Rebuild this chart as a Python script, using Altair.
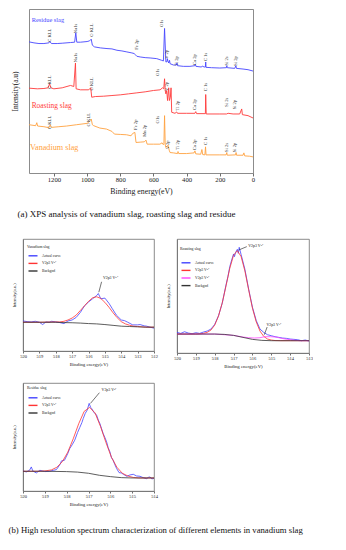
import altair as alt
import pandas as pd

FONT = "Liberation Serif"
FRAME = "#6e6e6e"
INK = "#1a1a1a"

# ---------------- (a) survey spectra (binding energy eV, intensity a.u.) ----------------
residue_pts = [(1350,391),(1320,388),(1290,386),(1260,386),(1230,388),(1224,392),(1215,386),(1180,386),
               (1150,387),(1100,389),(1075,390),(1068,418),(1062,390),(1040,390),(1000,392),(985,394),
               (975,399),(968,381),(955,376),(920,373),(880,371),(850,370),(820,366),(790,364),(760,361),
               (730,358),(715,356),(710,353),(700,348),(680,346),(650,344),(620,343),(580,341),(550,336),
               (540,334),(533,431),(525,331),(518,332),(516,341),(513,334),(508,328),(503,336),(500,326),
               (480,322),(462,322),(458,328),(455,320),(420,318),(380,318),(350,320),(347,324),(344,318),
               (310,316),(305,319),(295,316),(287,316),(285,331),(283,315),(250,314),(200,313),(160,314),
               (158,320),(155,314),(110,312),(103,320),(100,312),(60,310),(30,308),(0,304)]
roasting_pts = [(1350,253),(1300,251),(1260,252),(1235,254),(1226,266),(1218,254),(1200,251),(1150,254),
                (1100,261),(1080,258),(1070,328),(1066,251),(1040,248),(990,248),(978,254),(972,226),
                (950,228),(900,229),(850,231),(800,233),(750,236),(700,239),(650,242),(600,246),(560,248),
                (545,254),(538,251),(533,281),(529,246),(525,236),(520,246),(515,216),(508,254),(504,216),
                (498,226),(494,254),(490,181),(470,178),(460,182),(455,178),(400,178),(350,178),(345,183),
                (340,177),(295,177),(287,177),(285,234),(282,176),(200,176),(160,176),(150,178),(120,176),
                (80,176),(68,191),(64,174),(30,171),(0,164)]
vanadium_pts = [(1350,144),(1310,141),(1303,150),(1298,140),(1260,138),(1230,135),(1222,144),(1215,136),
                (1170,138),(1124,140),(1063,144),(1000,148),(985,154),(975,161),(968,144),(960,141),
                (923,134),(883,131),(850,124),(835,116),(800,115),(762,114),(735,111),(725,118),(712,121),
                (705,91),(680,92),(655,93),(645,98),(638,86),(600,86),(561,86),(548,90),(540,84),(537,86),
                (533,171),(529,84),(525,76),(512,83),(505,68),(500,61),(480,60),(455,58),(452,64),(448,58),
                (400,58),(355,60),(350,66),(345,57),(315,56),(308,70),(303,55),(290,54),(286,78),(283,54),
                (200,54),(162,54),(158,61),(155,53),(105,54),(102,61),(99,53),(60,53),(55,60),(50,51),
                (20,50),(0,48)]
survey_names = ["Residue slag", "Roasting slag", "Vanadium slag"]
survey_colors = ["#4646ff", "#ff3a3a", "#ffa240"]
survey_label_pos = [(1334, 456), (1334, 201), (1344, 76)]
xticks_a = [1200, 1000, 800, 600, 400, 200, 0]
peak_labels_a = [
    (1224,411,"C KLL"),(1068,431,"Na1s"),(973,426,"O KLL"),(702,383,"Fe 2p"),(547,446,"O1s"),
    (520,354,"V 2p"),(461,334,"Ti 2p"),(350,338,"Ca 2p"),(285,346,"C 1s"),(159,334,"Si 2s"),(102,334,"Si 2p"),
    (1224,271,"C KLL"),(1068,344,"Na1s"),(973,266,"O KLL"),(573,300,"O1s"),(520,258,"V 2p"),
    (455,201,"Ti 2p"),(350,204,"Ca 2p"),(283,256,"C 1s"),(159,211,"Si 2s"),(106,204,"Si 2p"),
    (1224,151,"C KLL"),(987,159,"O KLL"),(706,144,"Fe 2p"),(651,126,"Mn 2p"),(571,159,"O1s"),
    (514,84,"V 2p"),(455,84,"Ti 2p"),(350,84,"Ca 2p"),(285,96,"C 1s"),(159,76,"Si 2s"),(106,76,"Si 2p")]

# ---------------- (b) high-resolution V2p3 spectra ----------------
curve_names3 = ["Actual curve", "V2p3 V\u2075\u207a", "Backgnd"]
curve_colors3 = ["#4343ff", "#ff3434", "#333333"]
curve_names4 = ["Actual curve", "V2p3 V\u2075\u207a", "V2p3 V\u2074\u207a", "Backgnd"]
curve_colors4 = ["#4343ff", "#ff3434", "#ff44ff", "#333333"]

van_actual = [(520,92),(519.75,90),(519.5,89),(519.25,91),(519.0,88),(518.8,81),(518.6,89),(518.4,88),
              (518.25,91),(518.0,89),(517.75,87),(517.5,84),(517.25,92),(517.0,95),(516.75,103),(516.5,118),
              (516.25,138),(516.0,150),(515.75,160),(515.5,170),(515.4,176),(515.25,160),(515.0,162),
              (514.75,146),(514.55,130),(514.3,110),(514.0,95),(513.8,93),(513.6,88),(513.3,80),(513.0,80),
              (512.85,81),(512.6,77),(512.45,76),(512.25,73),(512.0,70)]
van_fit = [(520,88),(519,88),(518,89),(517.75,89),(517.5,91),(517.25,95),(517,101),(516.75,110),(516.5,124),
           (516.25,138),(516,152),(515.75,163),(515.5,166),(515.25,161),(515,149),(514.75,134),(514.5,117),
           (514.25,102),(514,90),(513.75,83),(513.5,79),(513.25,76),(513,75),(512.5,73),(512,73)]
van_bg = [(520,88),(519,88),(518,88),(517.5,87),(517,86.5),(516.5,85.5),(516,84),(515.5,83),(515,81),
          (514.5,78.5),(514,76),(513.5,75),(513,74),(512.5,73),(512,73)]
van_notes = [(515.12, 223, "V2p3 V\u2075\u207a")]
van_pointer = [(515.2, 212, 515.37, 180)]

roast_actual = [(520,62),(519.8,59),(519.6,64),(519.4,60),(519.2,58),(519.0,61),(518.8,59),(518.6,63),
                (518.4,66),(518.2,72),(518.0,86),(517.8,112),(517.6,150),(517.4,205),(517.3,230),(517.2,260),
                (517.1,280),(517.0,298),(516.95,290),(516.9,302),(516.8,312),(516.75,300),(516.7,318),
                (516.6,296),(516.4,252),(516.2,192),(516.0,138),(515.8,98),(515.6,72),(515.4,62),(515.2,55),
                (515.0,52),(514.8,49),(514.6,47),(514.4,45),(514.2,44),(514.0,42),(513.8,41),(513.6,40),
                (513.4,37),(513.2,39),(513.0,36)]
roast_fit5 = [(520,57),(519.5,57),(519,57),(518.8,57.5),(518.6,59),(518.4,62),(518.2,69),(518,84),(517.8,111),
              (517.6,151),(517.4,202),(517.2,255),(517,294),(516.8,308),(516.6,290),(516.4,247),(516.2,190),
              (516,135),(515.8,94),(515.6,66),(515.4,50),(515.2,42),(515,39),(514.8,37.5),(514.5,37),
              (514,37),(513,37)]
roast_fit4 = [(520,57),(518,57),(517,53),(516.5,48),(516.2,46),(515.9,45),(515.6,46),(515.35,49),(515.05,49),
              (514.75,48),(514.45,44),(514.15,41),(513.85,39),(513.5,37),(513,37)]
roast_bg = [(520,57),(519,57),(518,57),(517.5,56),(517,53),(516.5,47),(516,41),(515.5,38),(515,37),
            (514,37),(513,37)]
roast_notes = [(516.22, 323, "V2p3 V\u2075\u207a"), (515.26, 85, "V2p3 V\u2074\u207a")]
roast_pointer = [(516.3, 320, 516.72, 310), (515.22, 78, 515.37, 55)]

res_actual = [(520,60),(519.85,57),(519.7,62),(519.62,72),(519.55,60),(519.39,54),(519.23,62),(519.0,58),
              (518.78,59),(518.6,62),(518.47,64),(518.3,80),(518.24,90),(518.1,92),(517.95,112),(517.86,127),
              (517.75,138),(517.63,152),(517.5,175),(517.4,190),(517.3,205),(517.24,217),(517.15,232),
              (517.06,242),(516.97,262),(516.9,250),(516.86,247),(516.75,235),(516.63,227),(516.55,212),
              (516.48,202),(516.4,186),(516.33,172),(516.25,160),(516.17,147),(516.1,130),(516.02,117),
              (515.95,100),(515.87,92),(515.8,80),(515.71,67),(515.6,55),(515.5,54),(515.4,50),(515.25,44),
              (515.1,48),(514.95,50),(514.8,45),(514.64,44),(514.5,40),(514.34,37),(514.25,41),(514.18,42),
              (514.1,36),(514,38)]
res_fit = [(520,59),(519.5,59),(519.2,59),(518.95,60.5),(518.7,63),(518.45,71),(518.2,87.5),(517.95,116),
           (517.7,156),(517.45,201),(517.2,238),(516.95,250),(516.7,233.5),(516.45,193),(516.2,145),
           (515.95,101),(515.7,71),(515.45,53),(515.2,45),(514.95,40.5),(514.7,39),(514.3,39),(514,39)]
res_bg = [(520,59),(519,59),(518,58),(517.5,56.5),(517,53),(516.5,47),(516,43),(515.5,40),(515,39),
          (514.5,39),(514,39)]
res_notes = [(516.4, 302, "V2p3 V\u2075\u207a")]
res_pointer = [(516.5, 294, 516.91, 262)]

caption_a = "(a) XPS analysis of vanadium slag, roasting slag and residue"
caption_b = "(b) High resolution spectrum characterization of different elements in vanadium slag"


def pts_df(pts, name):
    return pd.DataFrame({"E": [p[0] for p in pts], "I": [p[1] for p in pts], "s": name})


# ---------------- panel (a) ----------------
survey = pd.concat([pts_df(p, n) for p, n in zip([residue_pts, roasting_pts, vanadium_pts], survey_names)],
                   ignore_index=True)
xa_scale = alt.Scale(domain=[1350, 0], range=[6, 230], nice=False, zero=False)
ya_scale = alt.Scale(domain=[0, 489], nice=False)
xa = alt.X("E:Q", scale=xa_scale,
           axis=alt.Axis(values=xticks_a, tickCount=len(xticks_a), format="d", title="Binding energy(eV)",
                         grid=False, labelOverlap=False, labelFlush=False,
                         labelFont=FONT, labelFontSize=6.7, labelColor=INK, labelPadding=0.5,
                         tickSize=3, tickColor=FRAME, domainColor=FRAME, domainWidth=0.8,
                         titleFont=FONT, titleFontSize=7.8, titleFontWeight="normal", titleColor=INK,
                         titlePadding=4))
ya = alt.Y("I:Q", scale=ya_scale,
           axis=alt.Axis(labels=False, ticks=False, grid=False, title="Intensity(a.u)", offset=-6,
                         domainColor=FRAME, domainWidth=0.8,
                         titleFont=FONT, titleFontSize=7.5, titleFontWeight="normal", titleColor=INK,
                         titlePadding=10))
x_plain = alt.X("E:Q", axis=None)
y_plain = alt.Y("I:Q", axis=None)

lines_a = alt.Chart(survey).mark_line(strokeWidth=0.9).encode(
    x=xa, y=ya,
    color=alt.Color("s:N", scale=alt.Scale(domain=survey_names, range=survey_colors), legend=None))
frame_a = alt.Chart(survey).mark_line(opacity=0).encode(
    x=alt.X("E:Q", axis=alt.Axis(orient="top", labels=False, ticks=False, grid=False, title="",
                                 domainColor=FRAME, domainWidth=0.8)),
    y=alt.Y("I:Q", axis=alt.Axis(orient="right", labels=False, ticks=False, grid=False, title="",
                                 domainColor=FRAME, domainWidth=0.8)),
    detail="s:N")
peaks_a = alt.Chart(pd.DataFrame(peak_labels_a, columns=["E", "I", "t"])).mark_text(
    angle=270, font=FONT, fontSize=4.6, color="#333333").encode(x=x_plain, y=y_plain, text="t:N")

label_layers = []
for (e, i), name, col, fs in zip(survey_label_pos, survey_names, survey_colors, [6.4, 7.4, 8.2]):
    label_layers.append(
        alt.Chart(pd.DataFrame({"E": [e], "I": [i], "t": [name]})).mark_text(
            align="left", baseline="middle", font=FONT, fontSize=fs, color=col
        ).encode(x=x_plain, y=y_plain, text="t:N"))

top = alt.layer(lines_a, frame_a, peaks_a, *label_layers).resolve_axis(
    x="independent", y="independent").properties(
    width=230, height=164, view=alt.ViewBackground(stroke="transparent"))


# ---------------- panels (b) ----------------
def make_panel(series, names, colors, legend_title, xdom, xticks, ymax, w, h, notes, pointers,
               lx, ly, title_pad):
    df = pd.concat([pts_df(p, n) for p, n in zip(series, names)], ignore_index=True)
    x = alt.X("E:Q", scale=alt.Scale(domain=xdom, nice=False, zero=False),
              axis=alt.Axis(values=xticks, tickCount=len(xticks), format="d", title="Binding energy(eV)",
                            grid=False, labelOverlap=False, labelFlush=False,
                            labelFont=FONT, labelFontSize=4.5, labelColor=INK, labelPadding=0.8,
                            tickSize=2, tickColor=FRAME, domainColor=FRAME, domainWidth=0.8,
                            titleFont=FONT, titleFontSize=4.8, titleFontWeight="normal", titleColor=INK,
                            titlePadding=3.5))
    y = alt.Y("I:Q", scale=alt.Scale(domain=[0, ymax], nice=False),
              axis=alt.Axis(labels=False, ticks=False, grid=False, title="Intensity(a.u.)",
                            domainColor=FRAME, domainWidth=0.8, titleFont=FONT, titleFontSize=4.3,
                            titleFontWeight="normal", titleColor=INK, titlePadding=7))
    lines = alt.Chart(df).mark_line(strokeWidth=0.8).encode(
        x=x, y=y,
        color=alt.Color("s:N", scale=alt.Scale(domain=names, range=colors),
                        legend=alt.Legend(title=legend_title, orient="none", legendX=lx, legendY=ly,
                                          symbolType="M-1.5,0H1.5", symbolSize=36, symbolStrokeWidth=1.4,
                                          labelFont=FONT, labelFontSize=3.7, labelColor=INK, labelOffset=5,
                                          titleFont=FONT, titleFontSize=3.8, titleFontWeight="normal",
                                          titleColor=INK, titlePadding=title_pad, rowPadding=0.6,
                                          padding=0, symbolOffset=2)))
    txt = alt.Chart(pd.DataFrame(notes, columns=["E", "I", "t"])).mark_text(
        align="left", baseline="middle", font=FONT, fontSize=3.9, color=INK).encode(
        x=x, y=y, text="t:N")
    rule = alt.Chart(pd.DataFrame(pointers, columns=["E", "I", "E2", "I2"])).mark_rule(
        strokeWidth=0.6, color=INK).encode(x=x, y=y, x2="E2:Q", y2="I2:Q")
    return alt.layer(lines, rule, txt).properties(width=w, height=h)


b1 = make_panel([van_actual, van_fit, van_bg], curve_names3, curve_colors3, "Vanadium slag",
                [520, 512], [520, 519, 518, 517, 516, 515, 514, 513, 512], 343, 131, 112,
                van_notes, van_pointer, 4, 6, 3)
b2 = make_panel([roast_actual, roast_fit5, roast_fit4, roast_bg], curve_names4, curve_colors4, "Roasting  slag",
                [520, 513], [520, 519, 518, 517, 516, 515, 514, 513], 343, 132, 114,
                roast_notes, roast_pointer, 3, 8, 8)
b3 = make_panel([res_actual, res_fit, res_bg], curve_names3, curve_colors3, "Residue slag",
                [520, 514], [520, 519, 518, 517, 516, 515, 514], 323, 131, 108,
                res_notes, res_pointer, 4, 3, 4)

row1 = alt.hconcat(top, spacing=0)
row2 = alt.hconcat(b1, b2, spacing=7,
                   title=alt.TitleParams(caption_a, orient="top", anchor="start", dx=6, offset=20,
                                         font=FONT, fontSize=9, fontWeight="normal", color="#111111")
                   ).resolve_scale(color="independent").resolve_legend(color="independent")
row3 = alt.hconcat(b3, spacing=0)

chart = alt.vconcat(row1, row2, row3, spacing=13,
                    title=alt.TitleParams(caption_b, orient="bottom", anchor="start", dx=-2, offset=19,
                                          font=FONT, fontSize=8.7, fontWeight="normal", color="#111111")
                    ).resolve_scale(color="independent").resolve_legend(color="independent").properties(
    padding=0).configure_view(stroke=FRAME, strokeWidth=0.8).configure_axis(labelOverlap=False)

chart.save("out.html", embed_options={"renderer": "svg", "actions": False})
